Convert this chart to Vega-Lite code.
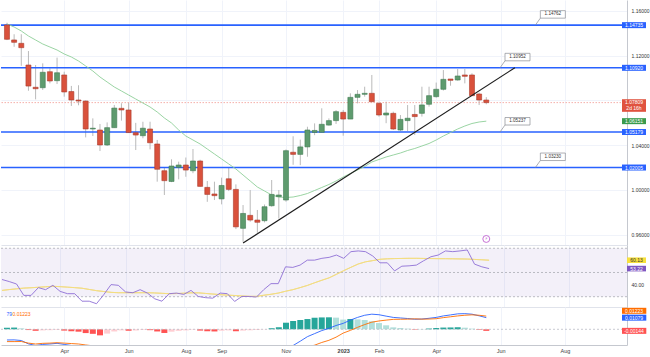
{
  "$schema": "https://vega.github.io/schema/vega-lite/v6.json",
  "padding": 0,
  "background": "white",
  "bounds": "flush",
  "spacing": 0,
  "datasets": {
    "w": [
      {"d":"2022-02-07","o":1.1475,"h":1.1495,"l":1.134,"c":1.1347,"ma":1.14838,"rsi":44.2,"rma":35.2,"macd":-0.0099,"sig":-0.0114,"hist":0.0015},
      {"d":"2022-02-14","o":1.1341,"h":1.1392,"l":1.128,"c":1.132,"ma":1.14569,"rsi":42.5,"rma":35.9,"macd":-0.0098,"sig":-0.0114,"hist":0.0016},
      {"d":"2022-02-21","o":1.1311,"h":1.1392,"l":1.111,"c":1.1272,"ma":1.14212,"rsi":40.5,"rma":36.5,"macd":-0.0104,"sig":-0.0113,"hist":0.0009},
      {"d":"2022-02-28","o":1.1117,"h":1.1242,"l":1.0887,"c":1.0929,"ma":1.13765,"rsi":31.1,"rma":37.1,"macd":-0.0135,"sig":-0.0128,"hist":-0.0007},
      {"d":"2022-03-07","o":1.0918,"h":1.1117,"l":1.081,"c":1.0905,"ma":1.13407,"rsi":31.1,"rma":37.4,"macd":-0.015,"sig":-0.0136,"hist":-0.0014},
      {"d":"2022-03-14","o":1.0914,"h":1.1132,"l":1.0894,"c":1.1052,"ma":1.1305,"rsi":37.5,"rma":37.8,"macd":-0.014,"sig":-0.013,"hist":-0.001},
      {"d":"2022-03-21","o":1.1057,"h":1.1088,"l":1.0953,"c":1.0974,"ma":1.12781,"rsi":35.8,"rma":38.2,"macd":-0.0136,"sig":-0.0128,"hist":-0.0008},
      {"d":"2022-03-28","o":1.0977,"h":1.1183,"l":1.0947,"c":1.1048,"ma":1.12513,"rsi":39.4,"rma":38.6,"macd":-0.013,"sig":-0.0124,"hist":-0.0006},
      {"d":"2022-04-04","o":1.1028,"h":1.1057,"l":1.0834,"c":1.0876,"ma":1.12156,"rsi":34.4,"rma":38.3,"macd":-0.014,"sig":-0.0128,"hist":-0.0012},
      {"d":"2022-04-11","o":1.088,"h":1.093,"l":1.0751,"c":1.0804,"ma":1.11887,"rsi":32.5,"rma":37.9,"macd":-0.015,"sig":-0.0132,"hist":-0.0018},
      {"d":"2022-04-18","o":1.0804,"h":1.0936,"l":1.0757,"c":1.0795,"ma":1.1153,"rsi":32.5,"rma":37.5,"macd":-0.0158,"sig":-0.0136,"hist":-0.0022},
      {"d":"2022-04-25","o":1.0795,"h":1.08,"l":1.047,"c":1.0545,"ma":1.11083,"rsi":26.3,"rma":37.0,"macd":-0.018,"sig":-0.0145,"hist":-0.0035},
      {"d":"2022-05-02","o":1.0545,"h":1.064,"l":1.0482,"c":1.0552,"ma":1.10636,"rsi":26.3,"rma":36.0,"macd":-0.0195,"sig":-0.0153,"hist":-0.0042},
      {"d":"2022-05-09","o":1.0536,"h":1.059,"l":1.0348,"c":1.0402,"ma":1.10099,"rsi":24.2,"rma":35.0,"macd":-0.0215,"sig":-0.0159,"hist":-0.0056},
      {"d":"2022-05-16","o":1.0402,"h":1.0604,"l":1.0393,"c":1.0557,"ma":1.09652,"rsi":31.7,"rma":34.3,"macd":-0.021,"sig":-0.017,"hist":-0.004},
      {"d":"2022-05-23","o":1.0557,"h":1.076,"l":1.0557,"c":1.0732,"ma":1.09205,"rsi":40.0,"rma":33.6,"macd":-0.0192,"sig":-0.0172,"hist":-0.002},
      {"d":"2022-05-30","o":1.073,"h":1.0775,"l":1.062,"c":1.0715,"ma":1.08848,"rsi":39.4,"rma":33.3,"macd":-0.018,"sig":-0.017,"hist":-0.001},
      {"d":"2022-06-06","o":1.0715,"h":1.078,"l":1.051,"c":1.0513,"ma":1.0849,"rsi":33.9,"rma":33.3,"macd":-0.0185,"sig":-0.0172,"hist":-0.0013},
      {"d":"2022-06-13","o":1.0512,"h":1.06,"l":1.0357,"c":1.0491,"ma":1.08132,"rsi":33.3,"rma":33.3,"macd":-0.0185,"sig":-0.0174,"hist":-0.0011},
      {"d":"2022-06-20","o":1.0485,"h":1.061,"l":1.0462,"c":1.0552,"ma":1.07775,"rsi":35.8,"rma":33.3,"macd":-0.018,"sig":-0.0174,"hist":-0.0006},
      {"d":"2022-06-27","o":1.0545,"h":1.061,"l":1.0363,"c":1.0422,"ma":1.07417,"rsi":33.0,"rma":33.3,"macd":-0.0185,"sig":-0.0177,"hist":-0.0008},
      {"d":"2022-07-04","o":1.0411,"h":1.0447,"l":1.0074,"c":1.0185,"ma":1.0697,"rsi":28.3,"rma":33.1,"macd":-0.021,"sig":-0.019,"hist":-0.002},
      {"d":"2022-07-11","o":1.0172,"h":1.02,"l":0.9955,"c":1.0083,"ma":1.06434,"rsi":26.3,"rma":32.8,"macd":-0.023,"sig":-0.0196,"hist":-0.0034},
      {"d":"2022-07-18","o":1.0076,"h":1.0274,"l":1.007,"c":1.0214,"ma":1.05987,"rsi":32.5,"rma":32.5,"macd":-0.023,"sig":-0.0208,"hist":-0.0022},
      {"d":"2022-07-25","o":1.0202,"h":1.0253,"l":1.0095,"c":1.0223,"ma":1.05361,"rsi":33.0,"rma":32.6,"macd":-0.0228,"sig":-0.0214,"hist":-0.0014},
      {"d":"2022-08-01","o":1.0223,"h":1.029,"l":1.0118,"c":1.0178,"ma":1.04824,"rsi":31.9,"rma":32.9,"macd":-0.0228,"sig":-0.0218,"hist":-0.001},
      {"d":"2022-08-08","o":1.0172,"h":1.0366,"l":1.015,"c":1.0259,"ma":1.04467,"rsi":35.2,"rma":33.2,"macd":-0.0222,"sig":-0.0218,"hist":-0.0004},
      {"d":"2022-08-15","o":1.0259,"h":1.027,"l":1.0029,"c":1.0032,"ma":1.04109,"rsi":30.2,"rma":33.2,"macd":-0.0235,"sig":-0.0223,"hist":-0.0012},
      {"d":"2022-08-22","o":1.0023,"h":1.008,"l":0.9894,"c":0.996,"ma":1.03662,"rsi":29.2,"rma":32.7,"macd":-0.0245,"sig":-0.0227,"hist":-0.0018},
      {"d":"2022-08-29","o":0.9964,"h":1.0074,"l":0.991,"c":0.9949,"ma":1.03215,"rsi":28.8,"rma":32.2,"macd":-0.025,"sig":-0.023,"hist":-0.002},
      {"d":"2022-09-05","o":0.992,"h":1.011,"l":0.9871,"c":1.004,"ma":1.02768,"rsi":33.0,"rma":31.7,"macd":-0.0245,"sig":-0.0232,"hist":-0.0013},
      {"d":"2022-09-12","o":1.01,"h":1.0197,"l":0.999,"c":1.0005,"ma":1.02321,"rsi":32.5,"rma":31.3,"macd":-0.0245,"sig":-0.0235,"hist":-0.001},
      {"d":"2022-09-19","o":1.0005,"h":1.005,"l":0.965,"c":0.967,"ma":1.01874,"rsi":26.1,"rma":31.0,"macd":-0.026,"sig":-0.0242,"hist":-0.0018},
      {"d":"2022-09-26","o":0.9657,"h":0.9865,"l":0.9537,"c":0.979,"ma":1.01337,"rsi":30.2,"rma":30.6,"macd":-0.0258,"sig":-0.0246,"hist":-0.0012},
      {"d":"2022-10-03","o":0.9773,"h":0.9999,"l":0.9716,"c":0.9731,"ma":1.00801,"rsi":30.2,"rma":30.3,"macd":-0.0258,"sig":-0.0249,"hist":-0.0009},
      {"d":"2022-10-10","o":0.9731,"h":0.9821,"l":0.9617,"c":0.9711,"ma":1.00264,"rsi":29.7,"rma":30.3,"macd":-0.0258,"sig":-0.0251,"hist":-0.0007},
      {"d":"2022-10-17","o":0.9725,"h":0.987,"l":0.971,"c":0.985,"ma":0.99907,"rsi":35.8,"rma":31.2,"macd":-0.0255,"sig":-0.0253,"hist":-0.0002},
      {"d":"2022-10-24","o":0.9859,"h":1.0089,"l":0.985,"c":0.996,"ma":0.99549,"rsi":40.8,"rma":32.0,"macd":-0.024,"sig":-0.025,"hist":0.001},
      {"d":"2022-10-31","o":0.994,"h":0.9999,"l":0.9745,"c":0.9955,"ma":0.9937,"rsi":40.8,"rma":33.0,"macd":-0.0225,"sig":-0.0244,"hist":0.0019},
      {"d":"2022-11-07","o":0.991,"h":1.0362,"l":0.9895,"c":1.0351,"ma":0.99326,"rsi":54.7,"rma":34.5,"macd":-0.018,"sig":-0.0241,"hist":0.0061},
      {"d":"2022-11-14","o":1.0337,"h":1.048,"l":1.0225,"c":1.0318,"ma":0.9937,"rsi":54.2,"rma":35.8,"macd":-0.015,"sig":-0.0227,"hist":0.0077},
      {"d":"2022-11-21","o":1.0318,"h":1.045,"l":1.0222,"c":1.0385,"ma":0.99505,"rsi":56.1,"rma":37.5,"macd":-0.011,"sig":-0.0196,"hist":0.0086},
      {"d":"2022-11-28","o":1.0385,"h":1.0565,"l":1.0297,"c":1.0536,"ma":0.99684,"rsi":60.2,"rma":39.3,"macd":-0.0068,"sig":-0.0163,"hist":0.0095},
      {"d":"2022-12-05","o":1.0514,"h":1.0595,"l":1.049,"c":1.0532,"ma":0.99952,"rsi":60.2,"rma":41.5,"macd":-0.004,"sig":-0.0147,"hist":0.0107},
      {"d":"2022-12-12","o":1.0515,"h":1.073,"l":1.0515,"c":1.0587,"ma":1.0022,"rsi":61.7,"rma":43.6,"macd":-0.0012,"sig":-0.0122,"hist":0.011},
      {"d":"2022-12-19","o":1.058,"h":1.064,"l":1.0575,"c":1.062,"ma":1.00488,"rsi":62.5,"rma":45.6,"macd":0.0009,"sig":-0.0102,"hist":0.0111},
      {"d":"2022-12-26","o":1.062,"h":1.0714,"l":1.059,"c":1.07,"ma":1.00801,"rsi":64.4,"rma":48.5,"macd":0.0035,"sig":-0.0073,"hist":0.0108},
      {"d":"2023-01-02","o":1.0694,"h":1.0715,"l":1.0485,"c":1.0634,"ma":1.01159,"rsi":61.7,"rma":51.5,"macd":0.0055,"sig":-0.0035,"hist":0.009},
      {"d":"2023-01-09","o":1.0634,"h":1.0864,"l":1.0634,"c":1.0828,"ma":1.01472,"rsi":67.2,"rma":54.3,"macd":0.0085,"sig":-0.001,"hist":0.0095},
      {"d":"2023-01-16","o":1.0828,"h":1.0893,"l":1.0774,"c":1.0855,"ma":1.01784,"rsi":67.8,"rma":57.0,"macd":0.011,"sig":0.0018,"hist":0.0092},
      {"d":"2023-01-23","o":1.0855,"h":1.0923,"l":1.0834,"c":1.0864,"ma":1.02097,"rsi":67.2,"rma":58.8,"macd":0.013,"sig":0.0044,"hist":0.0086},
      {"d":"2023-01-30","o":1.0864,"h":1.1028,"l":1.0789,"c":1.0789,"ma":1.025,"rsi":63.6,"rma":59.8,"macd":0.014,"sig":0.0066,"hist":0.0074},
      {"d":"2023-02-06","o":1.0774,"h":1.0789,"l":1.0655,"c":1.067,"ma":1.02723,"rsi":58.0,"rma":60.9,"macd":0.0135,"sig":0.0077,"hist":0.0058},
      {"d":"2023-02-13","o":1.067,"h":1.0789,"l":1.0597,"c":1.0688,"ma":1.02947,"rsi":58.0,"rma":61.3,"macd":0.0122,"sig":0.0085,"hist":0.0037},
      {"d":"2023-02-20","o":1.0685,"h":1.07,"l":1.0536,"c":1.0545,"ma":1.03126,"rsi":51.3,"rma":61.5,"macd":0.011,"sig":0.0092,"hist":0.0018},
      {"d":"2023-02-27","o":1.0536,"h":1.067,"l":1.0527,"c":1.0631,"ma":1.03304,"rsi":55.2,"rma":61.6,"macd":0.0105,"sig":0.0093,"hist":0.0012},
      {"d":"2023-03-06","o":1.062,"h":1.0759,"l":1.0527,"c":1.0641,"ma":1.03528,"rsi":55.5,"rma":61.7,"macd":0.01,"sig":0.0094,"hist":0.0006},
      {"d":"2023-03-13","o":1.0675,"h":1.0759,"l":1.0491,"c":1.0656,"ma":1.03707,"rsi":56.1,"rma":61.7,"macd":0.0093,"sig":0.0097,"hist":-0.0004},
      {"d":"2023-03-20","o":1.0685,"h":1.0923,"l":1.0656,"c":1.076,"ma":1.0393,"rsi":59.7,"rma":61.6,"macd":0.0095,"sig":0.0094,"hist":0.0001},
      {"d":"2023-03-27","o":1.0766,"h":1.0923,"l":1.0745,"c":1.0843,"ma":1.04154,"rsi":63.0,"rma":61.5,"macd":0.0102,"sig":0.0095,"hist":0.0007},
      {"d":"2023-04-03","o":1.0834,"h":1.096,"l":1.0825,"c":1.09,"ma":1.04467,"rsi":64.4,"rma":61.4,"macd":0.011,"sig":0.0098,"hist":0.0012},
      {"d":"2023-04-10","o":1.09,"h":1.1072,"l":1.0889,"c":1.0989,"ma":1.04824,"rsi":67.8,"rma":61.4,"macd":0.0124,"sig":0.0108,"hist":0.0016},
      {"d":"2023-04-17","o":1.0992,"h":1.0992,"l":1.0932,"c":1.098,"ma":1.05137,"rsi":67.2,"rma":61.3,"macd":0.0133,"sig":0.0116,"hist":0.0017},
      {"d":"2023-04-24","o":1.0983,"h":1.1081,"l":1.0977,"c":1.1019,"ma":1.0545,"rsi":67.8,"rma":61.2,"macd":0.0143,"sig":0.0124,"hist":0.0019},
      {"d":"2023-05-01","o":1.1028,"h":1.1081,"l":1.0953,"c":1.1016,"ma":1.05718,"rsi":68.6,"rma":61.1,"macd":0.0145,"sig":0.013,"hist":0.0015},
      {"d":"2023-05-08","o":1.1028,"h":1.1043,"l":1.0843,"c":1.0843,"ma":1.05942,"rsi":56.9,"rma":60.8,"macd":0.014,"sig":0.0134,"hist":0.0006},
      {"d":"2023-05-15","o":1.0858,"h":1.087,"l":1.0759,"c":1.0804,"ma":1.06076,"rsi":54.7,"rma":60.5,"macd":0.0125,"sig":0.013,"hist":-0.0005},
      {"d":"2023-05-22","o":1.0804,"h":1.083,"l":1.0766,"c":1.07809,"ma":1.06151,"rsi":53.22,"rma":60.13,"macd":0.01079,"sig":0.01223,"hist":-0.00144}
    ]
  },
  "vconcat": [
    {
      "width": 626,
      "height": 245,
      "layer": [
        {
          "data": {"name": "w"},
          "mark": {"type": "rule", "color": "#a8a8a8", "strokeWidth": 0.8, "clip": true},
          "encoding": {
            "x": {"field": "d", "type": "temporal", "title": null, "scale": {"type": "utc", "domain": [{"year": 2022, "month": 2, "date": 6, "hours": 1, "utc": true}, {"year": 2023, "month": 10, "date": 1, "hours": 19, "utc": true}]},
              "axis": {"title": null, "labels": false, "ticks": false, "grid": true, "gridColor": "#f0f3fa", "domain": true, "domainColor": "#e0e3eb",
                "values": [{"year":2022,"month":4,"date":4,"utc":true},{"year":2022,"month":6,"date":6,"utc":true},{"year":2022,"month":8,"date":1,"utc":true},{"year":2022,"month":9,"date":5,"utc":true},{"year":2022,"month":11,"date":7,"utc":true},{"year":2023,"month":1,"date":2,"utc":true},{"year":2023,"month":2,"date":6,"utc":true},{"year":2023,"month":4,"date":3,"utc":true},{"year":2023,"month":6,"date":5,"utc":true},{"year":2023,"month":8,"date":7,"utc":true}]}},
            "y": {"field": "l", "type": "quantitative", "title": null, "scale": {"domain": [0.95079, 1.16983], "nice": false, "zero": false},
              "axis": {"title": null, "orient": "right", "values": [0.96, 0.98, 1.0, 1.02, 1.04, 1.06, 1.08, 1.1, 1.12, 1.14, 1.16],
                "labelExpr": "(abs(datum.value - 1.02) < 0.001 || abs(datum.value - 1.06) < 0.001 || abs(datum.value - 1.08) < 0.001) ? '' : format(datum.value, '.5f')",
                "grid": true, "gridColor": "#f0f3fa", "ticks": false, "labelPadding": 4, "labelFontSize": 5, "labelColor": "#333333", "labelFont": "Liberation Sans", "domain": true, "domainColor": "#c5c8cf"}},
            "y2": {"field": "h"}
          }
        },
        {
          "data": {"values": [{"p": 1.14735}, {"p": 1.1092}, {"p": 1.05179}, {"p": 1.02005}]},
          "mark": {"type": "rule", "color": "#2962ff", "strokeWidth": 1.6, "clip": true},
          "encoding": {"y": {"field": "p", "type": "quantitative", "title": null, "scale": {"domain": [0.95079, 1.16983], "nice": false, "zero": false}}}
        },
        {
          "data": {"values": [{"p": 1.07809}]},
          "mark": {"type": "rule", "color": "#f29b93", "strokeWidth": 0.8, "strokeDash": [1.5, 1.5], "clip": true},
          "encoding": {"y": {"field": "p", "type": "quantitative", "title": null, "scale": {"domain": [0.95079, 1.16983], "nice": false, "zero": false}}}
        },
        {
          "data": {"name": "w"},
          "mark": {"type": "line", "color": "#8fcf99", "strokeWidth": 0.9, "clip": true},
          "encoding": {
            "x": {"field": "d", "type": "temporal", "title": null, "scale": {"type": "utc", "domain": [{"year": 2022, "month": 2, "date": 6, "hours": 1, "utc": true}, {"year": 2023, "month": 10, "date": 1, "hours": 19, "utc": true}]}},
            "y": {"field": "ma", "type": "quantitative", "title": null, "scale": {"domain": [0.95079, 1.16983], "nice": false, "zero": false}}
          }
        },
        {
          "data": {"name": "w"},
          "mark": {"type": "bar", "width": 5, "strokeWidth": 0.6, "clip": true},
          "encoding": {
            "x": {"field": "d", "type": "temporal", "title": null, "scale": {"type": "utc", "domain": [{"year": 2022, "month": 2, "date": 6, "hours": 1, "utc": true}, {"year": 2023, "month": 10, "date": 1, "hours": 19, "utc": true}]}},
            "y": {"field": "o", "type": "quantitative", "title": null, "scale": {"domain": [0.95079, 1.16983], "nice": false, "zero": false}},
            "y2": {"field": "c"},
            "color": {"condition": {"test": "datum.c >= datum.o", "value": "#5e9b6e"}, "value": "#d9513c"},
            "stroke": {"condition": {"test": "datum.c >= datum.o", "value": "#3f7a52"}, "value": "#a93b2b"}
          }
        },
        {
          "data": {"values": [{"d": "2022-09-26", "p": 0.9525}, {"d": "2023-06-19", "p": 1.1093}]},
          "mark": {"type": "line", "color": "#1e1e1e", "strokeWidth": 1.2, "clip": true},
          "encoding": {
            "x": {"field": "d", "type": "temporal", "title": null, "scale": {"type": "utc", "domain": [{"year": 2022, "month": 2, "date": 6, "hours": 1, "utc": true}, {"year": 2023, "month": 10, "date": 1, "hours": 19, "utc": true}]}},
            "y": {"field": "p", "type": "quantitative", "title": null, "scale": {"domain": [0.95079, 1.16983], "nice": false, "zero": false}}
          }
        },
        {
          "data": {"values": [{"d": "2023-07-09T00:00:00Z", "p": 1.14735, "t": "1.14762"}, {"d": "2023-06-04T10:00:00Z", "p": 1.1092, "t": "1.10952"}, {"d": "2023-06-04T10:00:00Z", "p": 1.05179, "t": "1.05237"}, {"d": "2023-07-09T00:00:00Z", "p": 1.02005, "t": "1.03230"}]},
          "layer": [
            {
              "mark": {"type": "point", "shape": "M0,0L5,-7M5,-14.5H30V-7H5Z", "size": 4, "filled": true, "fill": "#ffffff", "stroke": "#8a8d93", "strokeWidth": 0.7, "opacity": 1},
              "encoding": {
                "x": {"field": "d", "type": "temporal", "title": null, "scale": {"type": "utc", "domain": [{"year": 2022, "month": 2, "date": 6, "hours": 1, "utc": true}, {"year": 2023, "month": 10, "date": 1, "hours": 19, "utc": true}]}},
                "y": {"field": "p", "type": "quantitative", "title": null, "scale": {"domain": [0.95079, 1.16983], "nice": false, "zero": false}}
              }
            },
            {
              "mark": {"type": "text", "dx": 17.5, "dy": -10.75, "fontSize": 4.6, "color": "#333333", "align": "center", "baseline": "middle", "font": "Liberation Sans"},
              "encoding": {
                "x": {"field": "d", "type": "temporal", "title": null, "scale": {"type": "utc", "domain": [{"year": 2022, "month": 2, "date": 6, "hours": 1, "utc": true}, {"year": 2023, "month": 10, "date": 1, "hours": 19, "utc": true}]}},
                "y": {"field": "p", "type": "quantitative", "title": null, "scale": {"domain": [0.95079, 1.16983], "nice": false, "zero": false}},
                "text": {"field": "t"}
              }
            }
          ]
        },
        {
          "data": {"values": [{"p": 1.14735, "t": "1.14735", "k": "level"}, {"p": 1.1092, "t": "1.10920", "k": "level"}, {"p": 1.05179, "t": "1.05179", "k": "level"}, {"p": 1.02005, "t": "1.02005", "k": "level"}, {"p": 1.06151, "t": "1.06151", "k": "ma"}]},
          "layer": [
            {
              "mark": {"type": "point", "shape": "M0,-3H24V3H0Z", "size": 4, "filled": true, "strokeWidth": 0, "opacity": 1},
              "encoding": {
                "x": {"datum": {"year": 2023, "month": 10, "date": 1, "hours": 19, "utc": true}, "type": "temporal", "scale": {"type": "utc", "domain": [{"year": 2022, "month": 2, "date": 6, "hours": 1, "utc": true}, {"year": 2023, "month": 10, "date": 1, "hours": 19, "utc": true}]}},
                "y": {"field": "p", "type": "quantitative", "title": null, "scale": {"domain": [0.95079, 1.16983], "nice": false, "zero": false}},
                "color": {"condition": {"test": "datum.k == 'ma'", "value": "#3a9b4c"}, "value": "#2962ff"}
              }
            },
            {
              "mark": {"type": "text", "dx": 12, "align": "center", "baseline": "middle", "fontSize": 5, "color": "#ffffff", "font": "Liberation Sans"},
              "encoding": {
                "x": {"datum": {"year": 2023, "month": 10, "date": 1, "hours": 19, "utc": true}, "type": "temporal", "scale": {"type": "utc", "domain": [{"year": 2022, "month": 2, "date": 6, "hours": 1, "utc": true}, {"year": 2023, "month": 10, "date": 1, "hours": 19, "utc": true}]}},
                "y": {"field": "p", "type": "quantitative", "title": null, "scale": {"domain": [0.95079, 1.16983], "nice": false, "zero": false}},
                "text": {"field": "t"}
              }
            }
          ]
        },
        {
          "data": {"values": [{"p": 1.07809, "t": "1.07809\n2d 16h"}]},
          "layer": [
            {
              "mark": {"type": "point", "shape": "M0,-3.4H24V9.2H0Z", "size": 4, "filled": true, "fill": "#e0533f", "strokeWidth": 0, "opacity": 1},
              "encoding": {
                "x": {"datum": {"year": 2023, "month": 10, "date": 1, "hours": 19, "utc": true}, "type": "temporal", "scale": {"type": "utc", "domain": [{"year": 2022, "month": 2, "date": 6, "hours": 1, "utc": true}, {"year": 2023, "month": 10, "date": 1, "hours": 19, "utc": true}]}},
                "y": {"field": "p", "type": "quantitative", "title": null, "scale": {"domain": [0.95079, 1.16983], "nice": false, "zero": false}}
              }
            },
            {
              "mark": {"type": "text", "dx": 12, "dy": -2.6, "align": "center", "baseline": "top", "lineBreak": "\n", "lineHeight": 6.2, "fontSize": 5, "color": "#ffffff", "font": "Liberation Sans"},
              "encoding": {
                "x": {"datum": {"year": 2023, "month": 10, "date": 1, "hours": 19, "utc": true}, "type": "temporal", "scale": {"type": "utc", "domain": [{"year": 2022, "month": 2, "date": 6, "hours": 1, "utc": true}, {"year": 2023, "month": 10, "date": 1, "hours": 19, "utc": true}]}},
                "y": {"field": "p", "type": "quantitative", "title": null, "scale": {"domain": [0.95079, 1.16983], "nice": false, "zero": false}},
                "text": {"field": "t"}
              }
            }
          ]
        },
        {
          "data": {"values": [{"d": "2023-05-22"}]},
          "layer": [
            {
              "mark": {"type": "point", "shape": "circle", "size": 48, "filled": true, "fill": "#ffffff", "stroke": "#c062d0", "strokeWidth": 0.9, "opacity": 1},
              "encoding": {
                "x": {"field": "d", "type": "temporal", "title": null, "scale": {"type": "utc", "domain": [{"year": 2022, "month": 2, "date": 6, "hours": 1, "utc": true}, {"year": 2023, "month": 10, "date": 1, "hours": 19, "utc": true}]}},
                "y": {"datum": 0.9562, "type": "quantitative", "scale": {"domain": [0.95079, 1.16983], "nice": false, "zero": false}}
              }
            },
            {
              "mark": {"type": "text", "text": "⚡", "fontSize": 4.5, "color": "#c062d0", "align": "center", "baseline": "middle", "font": "DejaVu Sans"},
              "encoding": {
                "x": {"field": "d", "type": "temporal", "title": null, "scale": {"type": "utc", "domain": [{"year": 2022, "month": 2, "date": 6, "hours": 1, "utc": true}, {"year": 2023, "month": 10, "date": 1, "hours": 19, "utc": true}]}},
                "y": {"datum": 0.9562, "type": "quantitative", "scale": {"domain": [0.95079, 1.16983], "nice": false, "zero": false}}
              }
            }
          ]
        }
      ]
    },
    {
      "width": 626,
      "height": 62,
      "layer": [
        {
          "data": {"name": "w"},
          "mark": {"type": "line", "color": "#f5df7d", "strokeWidth": 0.9, "clip": true},
          "encoding": {
            "x": {"field": "d", "type": "temporal", "title": null, "scale": {"type": "utc", "domain": [{"year": 2022, "month": 2, "date": 6, "hours": 1, "utc": true}, {"year": 2023, "month": 10, "date": 1, "hours": 19, "utc": true}]},
              "axis": {"title": null, "labels": false, "ticks": false, "grid": true, "gridColor": "#f0f3fa", "domain": true, "domainColor": "#e0e3eb",
                "values": [{"year":2022,"month":4,"date":4,"utc":true},{"year":2022,"month":6,"date":6,"utc":true},{"year":2022,"month":8,"date":1,"utc":true},{"year":2022,"month":9,"date":5,"utc":true},{"year":2022,"month":11,"date":7,"utc":true},{"year":2023,"month":1,"date":2,"utc":true},{"year":2023,"month":2,"date":6,"utc":true},{"year":2023,"month":4,"date":3,"utc":true},{"year":2023,"month":6,"date":5,"utc":true},{"year":2023,"month":8,"date":7,"utc":true}]}},
            "y": {"field": "rma", "type": "quantitative", "title": null, "scale": {"domain": [21.5, 72.7], "nice": false, "zero": false},
              "axis": {"title": null, "orient": "right", "values": [40], "format": ".2f", "grid": false, "ticks": false, "labelPadding": 4, "labelFontSize": 5, "labelColor": "#333333", "labelFont": "Liberation Sans", "domain": true, "domainColor": "#c5c8cf"}}
          }
        },
        {
          "data": {"values": [{}]},
          "mark": {"type": "rect", "color": "#7e57c2", "opacity": 0.09},
          "encoding": {
            "y": {"datum": 70, "type": "quantitative", "scale": {"domain": [21.5, 72.7], "nice": false, "zero": false}},
            "y2": {"datum": 30}
          }
        },
        {
          "data": {"values": [{"v": 70}, {"v": 50}, {"v": 30}]},
          "mark": {"type": "rule", "color": "#a0a3ab", "strokeWidth": 0.7, "strokeDash": [2, 2]},
          "encoding": {"y": {"field": "v", "type": "quantitative", "title": null, "scale": {"domain": [21.5, 72.7], "nice": false, "zero": false}}}
        },
        {
          "data": {"name": "w"},
          "mark": {"type": "line", "color": "#f5df7d", "strokeWidth": 0.9, "clip": true},
          "encoding": {
            "x": {"field": "d", "type": "temporal", "title": null, "scale": {"type": "utc", "domain": [{"year": 2022, "month": 2, "date": 6, "hours": 1, "utc": true}, {"year": 2023, "month": 10, "date": 1, "hours": 19, "utc": true}]}},
            "y": {"field": "rma", "type": "quantitative", "title": null, "scale": {"domain": [21.5, 72.7], "nice": false, "zero": false}}
          }
        },
        {
          "data": {"name": "w"},
          "mark": {"type": "line", "color": "#8e6fd6", "strokeWidth": 0.9, "clip": true},
          "encoding": {
            "x": {"field": "d", "type": "temporal", "title": null, "scale": {"type": "utc", "domain": [{"year": 2022, "month": 2, "date": 6, "hours": 1, "utc": true}, {"year": 2023, "month": 10, "date": 1, "hours": 19, "utc": true}]}},
            "y": {"field": "rsi", "type": "quantitative", "title": null, "scale": {"domain": [21.5, 72.7], "nice": false, "zero": false}}
          }
        },
        {
          "data": {"values": [{"v": 60.13, "t": "60.13", "k": "ma"}, {"v": 53.22, "t": "53.22", "k": "rsi"}]},
          "layer": [
            {
              "mark": {"type": "point", "shape": "M0,-2.8H19V2.8H0Z", "size": 4, "filled": true, "strokeWidth": 0, "opacity": 1},
              "encoding": {
                "x": {"datum": {"year": 2023, "month": 10, "date": 1, "hours": 19, "utc": true}, "type": "temporal", "scale": {"type": "utc", "domain": [{"year": 2022, "month": 2, "date": 6, "hours": 1, "utc": true}, {"year": 2023, "month": 10, "date": 1, "hours": 19, "utc": true}]}},
                "y": {"field": "v", "type": "quantitative", "title": null, "scale": {"domain": [21.5, 72.7], "nice": false, "zero": false}},
                "color": {"condition": {"test": "datum.k == 'ma'", "value": "#f7e03c"}, "value": "#7e57c2"}
              }
            },
            {
              "mark": {"type": "text", "dx": 9.5, "align": "center", "baseline": "middle", "fontSize": 5, "font": "Liberation Sans"},
              "encoding": {
                "x": {"datum": {"year": 2023, "month": 10, "date": 1, "hours": 19, "utc": true}, "type": "temporal", "scale": {"type": "utc", "domain": [{"year": 2022, "month": 2, "date": 6, "hours": 1, "utc": true}, {"year": 2023, "month": 10, "date": 1, "hours": 19, "utc": true}]}},
                "y": {"field": "v", "type": "quantitative", "title": null, "scale": {"domain": [21.5, 72.7], "nice": false, "zero": false}},
                "text": {"field": "t"},
                "color": {"condition": {"test": "datum.k == 'ma'", "value": "#333333"}, "value": "#ffffff"}
              }
            }
          ]
        }
      ]
    },
    {
      "width": 626,
      "height": 38,
      "layer": [
        {
          "data": {"name": "w"},
          "transform": [{"window": [{"op": "lag", "field": "hist", "as": "prev"}], "sort": [{"field": "d", "order": "ascending"}]}],
          "mark": {"type": "bar", "width": 6, "clip": true},
          "encoding": {
            "x": {"field": "d", "type": "temporal", "title": null, "scale": {"type": "utc", "domain": [{"year": 2022, "month": 2, "date": 6, "hours": 1, "utc": true}, {"year": 2023, "month": 10, "date": 1, "hours": 19, "utc": true}]},
              "axis": {"title": null, "ticks": false, "grid": true, "gridColor": "#f0f3fa", "domain": true, "domainColor": "#c5c8cf", "labelFontSize": 5.5, "labelColor": "#444444", "labelFont": "Liberation Sans", "labelPadding": 3,
                "labelExpr": "utcFormat(datum.value, '%m') == '01' ? utcFormat(datum.value, '%Y') : utcFormat(datum.value, '%b')",
                "labelFontWeight": {"condition": {"test": "utcFormat(datum.value, '%m') == '01'", "value": "bold"}, "value": "normal"},
                "values": [{"year":2022,"month":4,"date":4,"utc":true},{"year":2022,"month":6,"date":6,"utc":true},{"year":2022,"month":8,"date":1,"utc":true},{"year":2022,"month":9,"date":5,"utc":true},{"year":2022,"month":11,"date":7,"utc":true},{"year":2023,"month":1,"date":2,"utc":true},{"year":2023,"month":2,"date":6,"utc":true},{"year":2023,"month":4,"date":3,"utc":true},{"year":2023,"month":6,"date":5,"utc":true},{"year":2023,"month":8,"date":7,"utc":true}]}},
            "y": {"field": "hist", "type": "quantitative", "title": null, "scale": {"domain": [-0.01454, 0.02065], "nice": false, "zero": false},
              "axis": {"title": null, "orient": "right", "labels": false, "grid": false, "ticks": false, "domain": true, "domainColor": "#c5c8cf"}},
            "y2": {"datum": 0},
            "color": {
              "condition": [
                {"test": "datum.hist >= 0 && (datum.prev == null || datum.hist > datum.prev)", "value": "#26a69a"},
                {"test": "datum.hist >= 0", "value": "#b2dfdb"},
                {"test": "datum.prev == null || datum.hist < datum.prev", "value": "#ff5252"}
              ],
              "value": "#ffcdd2"
            }
          }
        },
        {
          "data": {"values": [{}]},
          "mark": {"type": "rule", "color": "#b2b5be", "strokeWidth": 0.7, "strokeDash": [2, 2]},
          "encoding": {"y": {"datum": 0, "type": "quantitative", "scale": {"domain": [-0.01454, 0.02065], "nice": false, "zero": false}}}
        },
        {
          "data": {"name": "w"},
          "mark": {"type": "line", "color": "#2962ff", "strokeWidth": 0.9, "clip": true},
          "encoding": {
            "x": {"field": "d", "type": "temporal", "title": null, "scale": {"type": "utc", "domain": [{"year": 2022, "month": 2, "date": 6, "hours": 1, "utc": true}, {"year": 2023, "month": 10, "date": 1, "hours": 19, "utc": true}]}},
            "y": {"field": "macd", "type": "quantitative", "title": null, "scale": {"domain": [-0.01454, 0.02065], "nice": false, "zero": false}}
          }
        },
        {
          "data": {"name": "w"},
          "mark": {"type": "line", "color": "#ff6d00", "strokeWidth": 0.9, "clip": true},
          "encoding": {
            "x": {"field": "d", "type": "temporal", "title": null, "scale": {"type": "utc", "domain": [{"year": 2022, "month": 2, "date": 6, "hours": 1, "utc": true}, {"year": 2023, "month": 10, "date": 1, "hours": 19, "utc": true}]}},
            "y": {"field": "sig", "type": "quantitative", "title": null, "scale": {"domain": [-0.01454, 0.02065], "nice": false, "zero": false}}
          }
        },
        {
          "data": {"values": [{"t": "79"}]},
          "mark": {"type": "text", "dx": 0.5, "align": "left", "baseline": "middle", "fontSize": 5, "color": "#2962ff", "font": "Liberation Sans"},
          "encoding": {
            "x": {"datum": {"year": 2022, "month": 2, "date": 6, "hours": 1, "utc": true}, "type": "temporal", "scale": {"type": "utc", "domain": [{"year": 2022, "month": 2, "date": 6, "hours": 1, "utc": true}, {"year": 2023, "month": 10, "date": 1, "hours": 19, "utc": true}]}},
            "y": {"datum": 0.0142, "type": "quantitative", "scale": {"domain": [-0.01454, 0.02065], "nice": false, "zero": false}},
            "text": {"field": "t"}
          }
        },
        {
          "data": {"values": [{"t": "0.01223"}]},
          "mark": {"type": "text", "dx": 6.5, "align": "left", "baseline": "middle", "fontSize": 5, "color": "#ff6d00", "font": "Liberation Sans"},
          "encoding": {
            "x": {"datum": {"year": 2022, "month": 2, "date": 6, "hours": 1, "utc": true}, "type": "temporal", "scale": {"type": "utc", "domain": [{"year": 2022, "month": 2, "date": 6, "hours": 1, "utc": true}, {"year": 2023, "month": 10, "date": 1, "hours": 19, "utc": true}]}},
            "y": {"datum": 0.0142, "type": "quantitative", "scale": {"domain": [-0.01454, 0.02065], "nice": false, "zero": false}},
            "text": {"field": "t"}
          }
        },
        {
          "data": {"values": [{"v": 0.01079, "t": "0.01079", "k": "macd"}, {"v": -0.00144, "t": "-0.00144", "k": "hist"}]},
          "layer": [
            {
              "mark": {"type": "point", "shape": "M0,-3H24.3V3H0Z", "size": 4, "filled": true, "strokeWidth": 0, "opacity": 1},
              "encoding": {
                "x": {"datum": {"year": 2023, "month": 10, "date": 1, "hours": 19, "utc": true}, "type": "temporal", "scale": {"type": "utc", "domain": [{"year": 2022, "month": 2, "date": 6, "hours": 1, "utc": true}, {"year": 2023, "month": 10, "date": 1, "hours": 19, "utc": true}]}},
                "y": {"field": "v", "type": "quantitative", "title": null, "scale": {"domain": [-0.01454, 0.02065], "nice": false, "zero": false}},
                "color": {"condition": {"test": "datum.k == 'macd'", "value": "#2962ff"}, "value": "#ff5252"}
              }
            },
            {
              "mark": {"type": "text", "dx": 12, "align": "center", "baseline": "middle", "fontSize": 5, "color": "#ffffff", "font": "Liberation Sans"},
              "encoding": {
                "x": {"datum": {"year": 2023, "month": 10, "date": 1, "hours": 19, "utc": true}, "type": "temporal", "scale": {"type": "utc", "domain": [{"year": 2022, "month": 2, "date": 6, "hours": 1, "utc": true}, {"year": 2023, "month": 10, "date": 1, "hours": 19, "utc": true}]}},
                "y": {"field": "v", "type": "quantitative", "title": null, "scale": {"domain": [-0.01454, 0.02065], "nice": false, "zero": false}},
                "text": {"field": "t"}
              }
            }
          ]
        },
        {
          "data": {"values": [{"v": 0.01223, "t": "0.01223"}]},
          "layer": [
            {
              "mark": {"type": "point", "shape": "M0,-8.3H24.3V-2.3H0Z", "size": 4, "filled": true, "fill": "#ff6d00", "strokeWidth": 0, "opacity": 1},
              "encoding": {
                "x": {"datum": {"year": 2023, "month": 10, "date": 1, "hours": 19, "utc": true}, "type": "temporal", "scale": {"type": "utc", "domain": [{"year": 2022, "month": 2, "date": 6, "hours": 1, "utc": true}, {"year": 2023, "month": 10, "date": 1, "hours": 19, "utc": true}]}},
                "y": {"field": "v", "type": "quantitative", "title": null, "scale": {"domain": [-0.01454, 0.02065], "nice": false, "zero": false}}
              }
            },
            {
              "mark": {"type": "text", "dx": 12, "dy": -5.3, "align": "center", "baseline": "middle", "fontSize": 5, "color": "#ffffff", "font": "Liberation Sans"},
              "encoding": {
                "x": {"datum": {"year": 2023, "month": 10, "date": 1, "hours": 19, "utc": true}, "type": "temporal", "scale": {"type": "utc", "domain": [{"year": 2022, "month": 2, "date": 6, "hours": 1, "utc": true}, {"year": 2023, "month": 10, "date": 1, "hours": 19, "utc": true}]}},
                "y": {"field": "v", "type": "quantitative", "title": null, "scale": {"domain": [-0.01454, 0.02065], "nice": false, "zero": false}},
                "text": {"field": "t"}
              }
            }
          ]
        }
      ]
    }
  ],
  "resolve": {"scale": {"x": "independent", "y": "independent"}, "axis": {"x": "independent", "y": "independent"}},
  "config": {
    "view": {"stroke": null},
    "font": "Liberation Sans",
    "axis": {"labelFont": "Liberation Sans"}
  }
}
